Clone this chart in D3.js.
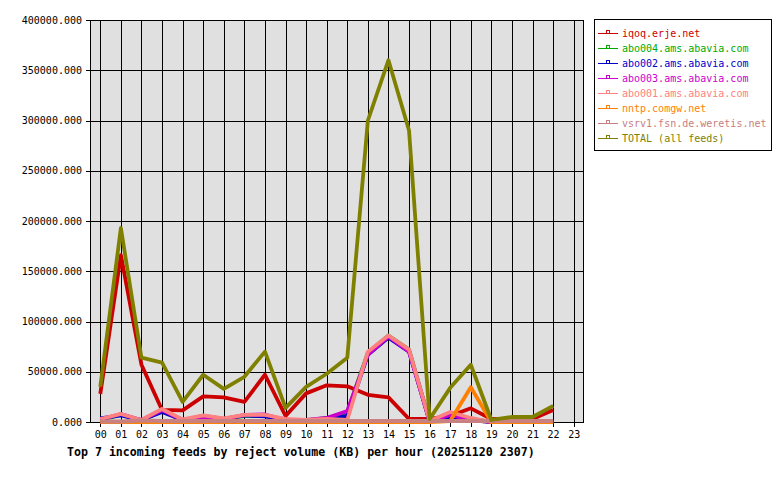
<!DOCTYPE html>
<html><head><meta charset="utf-8">
<script src="https://cdn.jsdelivr.net/npm/d3@7"></script>
<style>
body{margin:0;background:#fff;}
svg{display:block;}
text{font-family:"DejaVu Sans Mono","Liberation Mono",monospace;}
</style></head>
<body><svg id="c" width="780" height="480"></svg>
<script>
const hours = ["00","01","02","03","04","05","06","07","08","09","10","11","12","13","14","15","16","17","18","19","20","21","22","23"];
const yTicks = [0,50000,100000,150000,200000,250000,300000,350000,400000];
const seriesNames = ["iqoq.erje.net","abo004.ams.abavia.com","abo002.ams.abavia.com","abo003.ams.abavia.com","abo001.ams.abavia.com","nntp.comgw.net","vsrv1.fsn.de.weretis.net","TOTAL (all feeds)"];
const seriesColors = ["#cc0000","#00aa00","#0000cc","#cc00cc","#ff8080","#ff8000","#c88080","#808000"];
const iqoq   = [28000,166000,57000,12000,11500,25500,24500,20000,47000,6000,28500,36500,35500,27000,24500,3000,3000,6000,13600,3000,3000,3000,12000];
const abo004 = [2000,7000,1500,11000,2000,5000,2500,6000,6000,2000,1500,4000,10000,69000,86000,72000,500,7000,2000,0,0,0,0];
const abo002 = [3500,6500,2000,10000,2000,6000,3000,6500,5500,2000,1500,2500,6000,67000,84000,70000,500,5000,3000,0,0,0,0];
const abo003 = [2500,8000,2000,12000,2000,5000,2500,7000,7500,2000,2000,4000,11000,67000,85000,70000,500,7000,2000,0,0,0,0];
const abo001 = [3000,8000,2000,13000,2500,6500,3500,7000,7000,3000,2000,3000,2000,70000,86000,72000,1000,10000,4000,0,0,0,0];
const nntp   = [0,0,0,0,0,0,0,0,0,0,0,0,0,0,0,0,0,1000,34500,0,0,0,0];
const vsrv1  = [500,500,1500,1000,1000,1000,1000,1000,1000,1000,1000,1000,1000,1000,1000,1000,1000,1000,1000,1000,1000,1000,1000];
const total  = [35000,193000,64000,59000,20000,47000,33000,45000,70000,14000,35000,48000,64000,300000,360000,290000,3000,34000,57000,2000,5000,5000,16000];
const seriesData = [iqoq,abo004,abo002,abo003,abo001,nntp,vsrv1,total];

const svg = d3.select("#c");
const L=90, R=584, T=20, B=422;
const x = d3.scaleLinear().domain([-0.5,23.5]).range([L,R]);
const y = d3.scaleLinear().domain([0,400000]).range([B,T]);

svg.append("rect").attr("x",L).attr("y",T).attr("width",R-L).attr("height",B-T).attr("fill","#e0e0e0");

const g = svg.append("g").attr("shape-rendering","crispEdges");
g.selectAll("line.vg").data(hours).enter().append("line")
  .attr("x1",(d,i)=>Math.round(x(i))+0.5).attr("x2",(d,i)=>Math.round(x(i))+0.5)
  .attr("y1",T).attr("y2",B+5).attr("stroke","#000");
g.selectAll("line.hg").data(yTicks).enter().append("line")
  .attr("x1",L-4).attr("x2",R).attr("y1",d=>Math.round(y(d))+0.5).attr("y2",d=>Math.round(y(d))+0.5).attr("stroke","#000");
g.append("rect").attr("x",L+0.5).attr("y",T+0.5).attr("width",R-L-1).attr("height",B-T).attr("fill","none").attr("stroke","#000");

svg.selectAll("text.yl").data(yTicks).enter().append("text")
  .attr("x",82).attr("y",d=>y(d)).attr("dy","0.35em").attr("text-anchor","end")
  .attr("font-size","10px").attr("fill","#000").text(d=>d3.format(".3f")(d));
svg.selectAll("text.xl").data(hours).enter().append("text")
  .attr("x",(d,i)=>x(i)+0.5).attr("y",438).attr("text-anchor","middle")
  .attr("font-size","10px").attr("fill","#000").text(d=>d);

const line = d3.line().x((d,i)=>x(i)).y(d=>y(d));
seriesData.forEach((s,k)=>{
  svg.append("path").datum(s).attr("d",line).attr("fill","none")
    .attr("stroke",seriesColors[k]).attr("stroke-width",3.8).attr("stroke-linejoin","round");
});

svg.append("text").attr("x",67).attr("y",456).attr("font-size","11.6px").attr("font-weight","bold")
  .attr("fill","#000").text("Top 7 incoming feeds by reject volume (KB) per hour (20251120 2307)");

const lg = svg.append("g");
lg.append("rect").attr("x",594.5).attr("y",19.5).attr("width",177).attr("height",131)
  .attr("fill","#fff").attr("stroke","#000").attr("shape-rendering","crispEdges");
seriesNames.forEach((n,k)=>{
  const yy = 33 + k*15;
  lg.append("line").attr("x1",598).attr("x2",618).attr("y1",yy+0.5).attr("y2",yy+0.5)
    .attr("stroke",seriesColors[k]).attr("shape-rendering","crispEdges");
  lg.append("rect").attr("x",606.5).attr("y",yy-2.5).attr("width",3).attr("height",3)
    .attr("fill","none").attr("stroke",seriesColors[k]).attr("shape-rendering","crispEdges");
  lg.append("text").attr("x",622).attr("y",yy).attr("dy","0.35em").attr("font-size","10px")
    .attr("fill",seriesColors[k]).text(n);
});
</script></body></html>
